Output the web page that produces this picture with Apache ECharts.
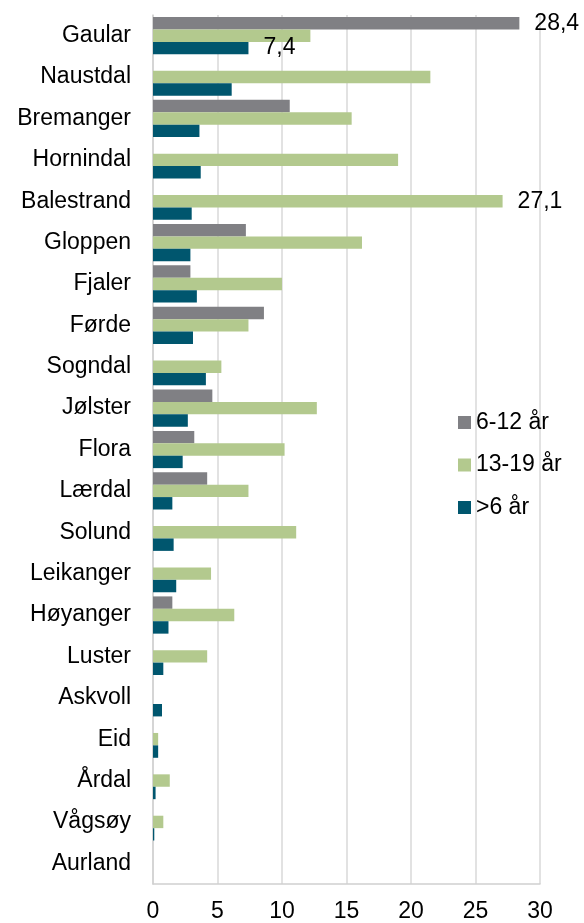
<!DOCTYPE html>
<html>
<head>
<meta charset="utf-8">
<script src="https://cdn.jsdelivr.net/npm/echarts@6/dist/echarts.min.js"></script>
<style>
  html, body { margin: 0; padding: 0; background: #fff; }
  #chart { width: 584px; height: 923px; }
</style>
</head>
<body>
<div id="chart"></div>
<script>
// Municipalities, listed top to bottom
const kommuner = ['Gaular', 'Naustdal', 'Bremanger', 'Hornindal', 'Balestrand', 'Gloppen',
  'Fjaler', 'Førde', 'Sogndal', 'Jølster', 'Flora', 'Lærdal', 'Solund', 'Leikanger',
  'Høyanger', 'Luster', 'Askvoll', 'Eid', 'Årdal', 'Vågsøy', 'Aurland'];

const serieNavn = ['6-12 år', '13-19 år', '>6 år'];

const verdi6til12 = [28.4, 0, 10.6, 0, 0, 7.2, 2.9, 8.6, 0, 4.6, 3.2, 4.2, 0, 0, 1.5, 0, 0, 0, 0, 0, 0];
const verdi13til19 = [12.2, 21.5, 15.4, 19.0, 27.1, 16.2, 10.0, 7.4, 5.3, 12.7, 10.2, 7.4, 11.1, 4.5, 6.3, 4.2, 0, 0.4, 1.3, 0.8, 0];
const verdiUnder6 = [7.4, 6.1, 3.6, 3.7, 3.0, 2.9, 3.4, 3.1, 4.1, 2.7, 2.3, 1.5, 1.6, 1.8, 1.2, 0.8, 0.7, 0.4, 0.2, 0.1, 0];

// Points whose value is written next to the bar: [series index, category]
const merkedePunkt = [[0, 'Gaular'], [2, 'Gaular'], [1, 'Balestrand']];

const akseTicks = [0, 5, 10, 15, 20, 25, 30];

const farger = ['#808084', '#B3C98E', '#00566E'];
const tekstFont = '"Liberation Sans", Arial, sans-serif';
const tekstStr = 23;

function lagData(verdier, serieIndeks) {
  return verdier.map((v, i) => {
    const merket = merkedePunkt.some(p => p[0] === serieIndeks && p[1] === kommuner[i]);
    if (!merket) return v;
    return {
      value: v,
      label: {
        show: true,
        position: 'right',
        distance: 15,
        color: '#000',
        fontFamily: tekstFont,
        fontSize: tekstStr,
        formatter: p => p.value.toFixed(1).replace('.', ',')
      }
    };
  });
}

const alleVerdier = [verdi6til12, verdi13til19, verdiUnder6];

const chart = echarts.init(document.getElementById('chart'), null, { renderer: 'canvas' });
chart.setOption({
  animation: false,
  textStyle: { fontFamily: tekstFont },
  grid: { left: 153, right: 44, top: 15, bottom: 37, containLabel: false },
  legend: {
    orient: 'vertical',
    left: 458,
    top: 411,
    padding: 0,
    itemWidth: 13,
    itemHeight: 13,
    itemGap: 19.5,
    icon: 'rect',
    textStyle: { fontSize: tekstStr, lineHeight: 23, color: '#000', fontFamily: tekstFont },
    data: serieNavn
  },
  xAxis: {
    type: 'value',
    min: akseTicks[0],
    max: akseTicks[akseTicks.length - 1],
    interval: 5,
    axisLine: { show: true, lineStyle: { color: '#D0D0D0', width: 1.5 } },
    axisTick: { show: false },
    splitLine: { show: true, lineStyle: { color: '#D9D9D9', width: 1.5 } },
    axisLabel: { color: '#000', fontSize: tekstStr, margin: 16, fontFamily: tekstFont }
  },
  yAxis: {
    type: 'category',
    inverse: true,
    data: kommuner,
    axisLine: { show: true, lineStyle: { color: '#D0D0D0', width: 1.5 } },
    axisTick: { show: false },
    splitLine: { show: false },
    axisLabel: { color: '#000', fontSize: tekstStr, margin: 22, fontFamily: tekstFont }
  },
  series: serieNavn.map((navn, s) => ({
    name: navn,
    type: 'bar',
    barGap: '0%',
    barCategoryGap: '10%',
    itemStyle: { color: farger[s] },
    emphasis: { disabled: true },
    data: lagData(alleVerdier[s], s)
  }))
});
</script>
</body>
</html>
